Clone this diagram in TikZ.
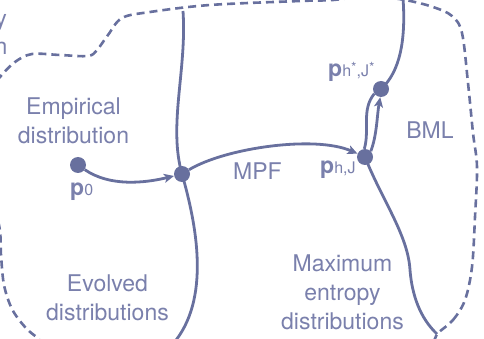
\documentclass[tikz,border=0pt]{standalone}
\usepackage{fontspec}
\setmainfont{TeX Gyre Heros}
\usetikzlibrary{arrows.meta}
\definecolor{linec}{RGB}{104,112,158}
\definecolor{textc}{RGB}{122,128,172}
\begin{document}
\begin{tikzpicture}[x=1pt,y=-1pt,
  dot/.style={circle,fill=linec,draw=none,minimum size=16pt,inner sep=0pt},
  curve/.style={draw=linec,line width=2.8pt},
  bound/.style={draw=linec,line width=2.6pt,dash pattern=on 8pt off 5pt},
  arr/.style={-{Stealth[length=10pt,width=9pt,inset=2.5pt]}},
  lbl/.style={text=textc,font=\fontsize{23}{29}\selectfont,align=center,inner sep=0pt},
  plbl/.style={text=textc,inner sep=0pt,anchor=base west}]
\useasboundingbox (0,0) rectangle (484,339);
\clip (0,0) rectangle (484,339);

% dashed outer region
\draw[bound] plot[smooth cycle, tension=0.55] coordinates {
 (438,333) (453,320) (465,300) (472,267) (475,217) (477,167) (473,133) (468,83)
 (462,33) (452,16) (433,7) (405,0) (370,-4) (333,0) (300,1) (210,5) (150,12)
 (122,18) (108,35) (97,50) (88,56) (60,55) (32,54) (15,62) (0,77) (-15,97)
 (-22,130) (-15,180) (-1,225) (1,255) (4,285) (12,309) (25,327) (38,338)
 (60,352) (200,362) (380,358) (428,345)};

% points
\node[dot] (p0) at (78,165) {};
\node[dot] (A) at (182,174) {};
\node[dot] (H) at (365,157) {};
\node[dot] (Hs) at (381,89) {};

\coordinate (Ltop) at (183,11);
\coordinate (Lbot) at (172,345);
\coordinate (Rtop) at (403,-2);
\coordinate (Rbot) at (437,334);

% region boundaries
\draw[curve] (Ltop) .. controls (187,70) and (168,125) .. (A.center)
  .. controls (196,223) and (212,300) .. (Lbot);
\draw[curve] (Rtop) .. controls (406,40) and (400,72) .. (Hs.center);
\draw[curve] (H.center) .. controls (382,200) and (408,235) .. (410,270)
  .. controls (412,295) and (420,318) .. (Rbot);

% flows
\draw[curve,arr] (p0) .. controls (110,187) and (145,183) .. (A);
\draw[curve,arr] (A) .. controls (225,148) and (315,135) .. (H);
\draw[curve] (H.95) .. controls (370,130) and (361,110) .. (Hs.215);
\draw[curve,arr] (H.45) .. controls (377,135) and (377,115) .. (Hs.265);

% labels
\node[lbl] (emp) at (73.5,121) {Empirical\\distribution};
\node[lbl] (evo) at (107.5,298) {Evolved\\distributions};
\node[lbl] (maxent) at (342.5,292.6) {Maximum\\entropy\\distributions};
\node[lbl] (mpf) at (257.5,171.5) {MPF};
\node[lbl] (bml) at (430,130) {BML};
\node[lbl,anchor=base east] (cuty) at (7,27) {y};
\node[lbl,anchor=base east] (cutn) at (7.5,55) {n};

\node[plbl] (lp0) at (70,195) {\fontsize{23}{23}\selectfont\textbf{p}\fontsize{16}{16}\selectfont 0};
\node[plbl] (lH) at (320,174) {\fontsize{23}{23}\selectfont\textbf{p}\fontsize{16}{16}\selectfont h,J};
\node[plbl] (lHs) at (328,77) {\fontsize{23}{23}\selectfont\textbf{p}\fontsize{16}{16}\selectfont h\raisebox{4pt}{\fontsize{14}{14}\selectfont *},J\raisebox{4pt}{\fontsize{14}{14}\selectfont *}};
\end{tikzpicture}
\end{document}
